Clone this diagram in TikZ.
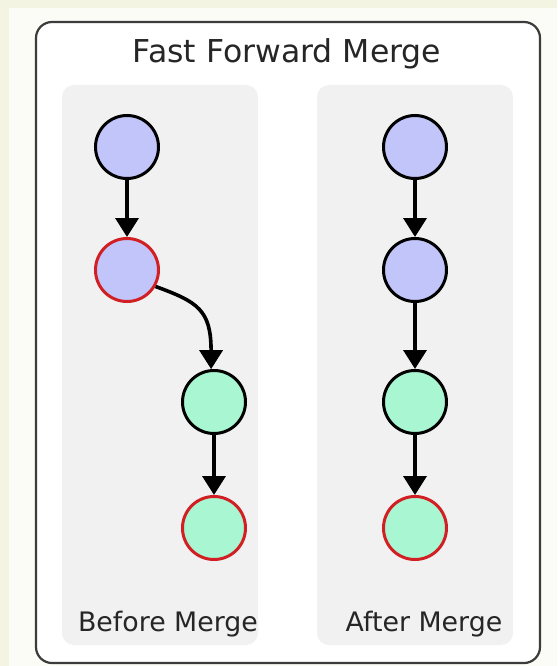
\documentclass[tikz,border=0pt]{standalone}
\usepackage{fontspec}
\setmainfont{DejaVu Sans}
\usetikzlibrary{arrows.meta,positioning}
\definecolor{bluecommit}{HTML}{C2C5FA}
\definecolor{greencommit}{HTML}{A9F6D2}
\definecolor{headred}{HTML}{D21F24}
\definecolor{lanegray}{HTML}{F1F1F1}
\definecolor{cream}{HTML}{F4F4E3}
\definecolor{paper}{HTML}{FCFCF7}
\definecolor{framegray}{HTML}{3C3C3C}
\tikzset{
  commit/.style = {circle, draw=black, line width=3pt, minimum size=63pt, inner sep=0pt},
  bluec/.style  = {commit, fill=bluecommit},
  greenc/.style = {commit, fill=greencommit},
  headc/.style  = {draw=headred},
  link/.style   = {-{Triangle[length=19pt,width=23pt]}, line width=3.6pt},
  lane/.style   = {fill=lanegray, rounded corners=12pt},
  lbl/.style    = {font=\fontsize{26.8}{30}\selectfont, text=black!85, anchor=base},
}

\begin{document}
\begin{tikzpicture}[x=1pt,y=-1pt]
  \useasboundingbox (0,0) rectangle (557,666);
  % backdrop and frame
  \fill[cream] (0,0) rectangle (557,666);
  \fill[paper] (9,8) rectangle (557,666);
  \draw[framegray, line width=2.2pt, fill=white, rounded corners=16pt] (36,22) rectangle (540,663);
  \node[lbl, font=\fontsize{31.5}{35}\selectfont] (title) at (287,63) {Fast Forward Merge};

  % lanes
  \fill[lane] (62,85) rectangle (258,645);
  \fill[lane] (317,85) rectangle (513,645);

  % before
  \node[bluec] (b1) at (127,147) {};
  \node[bluec, headc] (b2) at (127,270) {};
  \node[greenc] (b3) at (214,402) {};
  \node[greenc, headc] (b4) at (214,528) {};
  \draw[link] (b1) -- (b2);
  \draw[link] (b2.-30) .. controls (198,302) and (211,310) .. (b3.95);
  \draw[link] (b3) -- (b4);
  \node[lbl] (before) at (168,631) {Before Merge};

  % after
  \node[bluec] (a1) at (415,147) {};
  \node[bluec] (a2) at (415,270) {};
  \node[greenc] (a3) at (415,402) {};
  \node[greenc, headc] (a4) at (415,528) {};
  \draw[link] (a1) -- (a2);
  \draw[link] (a2) -- (a3);
  \draw[link] (a3) -- (a4);
  \node[lbl] (after) at (424,631) {After Merge};
\end{tikzpicture}
\end{document}
